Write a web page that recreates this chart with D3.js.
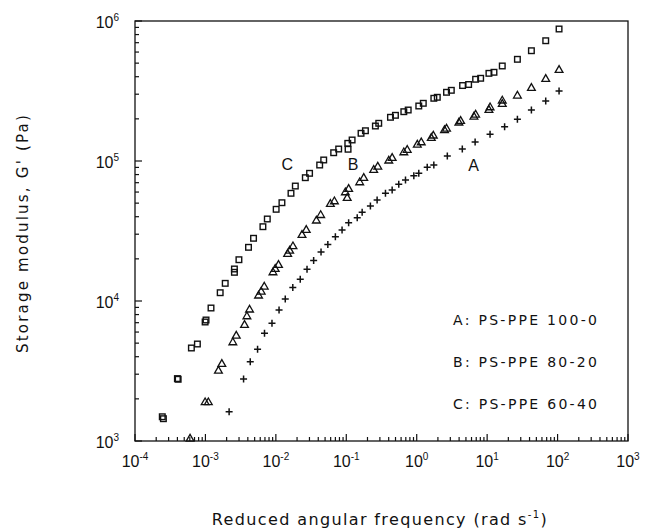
<!DOCTYPE html>
<html>
<head>
<meta charset="utf-8">
<script src="https://cdn.jsdelivr.net/npm/d3@7"></script>
<style>
  html, body { margin: 0; padding: 0; background: #fff; }
  svg { display: block; font-family: "Liberation Sans", Arial, Helvetica, sans-serif; }
</style>
</head>
<body>
<svg id="chart" width="645" height="532"></svg>
<script>
// Reduced frequency (rad/s) and storage modulus G' (Pa) for the three blends
const freqC = [2.44e-4, 2.53e-4, 4.0e-4, 4.1e-4, 6.32e-4, 7.69e-4, 9.9e-4, 1.02e-3, 1.20e-3, 1.62e-3, 1.91e-3,
  2.58e-3, 2.58e-3, 2.99e-3, 4.09e-3, 4.82e-3, 6.55e-3, 7.56e-3, 1.01e-2, 1.22e-2, 1.64e-2, 1.89e-2,
  2.62e-2, 3.01e-2, 4.19e-2, 4.78e-2, 6.62e-2, 7.80e-2, 0.106, 0.105, 0.121, 0.162, 0.187, 0.259, 0.289,
  0.424, 0.499, 0.656, 0.757, 1.07, 1.24, 1.75, 1.96, 2.65, 3.10, 4.48, 5.46, 6.86, 8.09, 10.6, 12.5,
  16.4, 26.9, 42.5, 67.9, 105];
const gC = [1490, 1443, 2790, 2760, 4617, 4930, 7080, 7316, 8913, 11460, 13370,
  16030, 16930, 19720, 24180, 28050, 33940, 38530, 45180, 50360, 58790, 66240,
  76000, 81660, 93600, 101700, 114600, 121800, 121300, 133700, 141300, 157700, 164500, 177800, 185900,
  205200, 212000, 225000, 231300, 247100, 258300, 280500, 285100, 309600, 319800, 346000, 351800, 383500, 389800, 422800, 430200,
  477300, 532500, 613400, 722900, 876800];

const freqB = [6.05e-4, 9.9e-4, 1.10e-3, 1.53e-3, 1.71e-3, 2.45e-3, 2.74e-3, 3.59e-3, 3.88e-3, 4.23e-3,
  5.68e-3, 6.19e-3, 6.84e-3, 9.10e-3, 9.79e-3, 1.09e-2, 1.47e-2, 1.57e-2, 1.75e-2, 2.35e-2, 2.70e-2,
  3.76e-2, 4.33e-2, 5.94e-2, 6.78e-2, 9.70e-2, 0.108, 0.103, 0.155, 0.177, 0.245, 0.280, 0.401, 0.448,
  0.656, 0.733, 1.02, 1.16, 1.61, 1.72, 2.48, 2.65, 3.97, 4.20, 6.49, 6.86, 10.6, 11.0, 16.4, 16.4,
  26.9, 42.5, 67.9, 105];
const gB = [1050, 1909, 1909, 3214, 3589, 5119, 5715, 6817, 7852, 8770,
  11040, 11790, 12800, 16190, 17120, 18280, 21920, 23130, 24840, 29940, 32510,
  37910, 41500, 49880, 52050, 60360, 63830, 55030, 71140, 76520, 87270, 92110, 101700, 106300,
  116500, 121300, 132200, 137300, 147600, 153400, 167900, 172100, 190000, 195400, 209600, 216600, 234000, 244300, 258300, 272900,
  296100, 336000, 389800, 451600];

const freqA = [2.17e-3, 3.48e-3, 4.33e-3, 5.50e-3, 6.90e-3, 8.81e-3, 1.11e-2, 1.36e-2, 1.74e-2, 2.22e-2,
  2.77e-2, 3.44e-2, 4.38e-2, 5.47e-2, 7.00e-2, 8.71e-2, 0.108, 0.143, 0.168, 0.220, 0.274, 0.360,
  0.448, 0.556, 0.693, 0.910, 1.07, 1.41, 1.75, 2.72, 4.44, 6.75, 11.0, 17.7, 26.9, 42.5, 67.9, 105];
const gA = [1619, 2772, 3684, 4519, 5878, 6929, 8623, 10330, 12480, 14310,
  16870, 19470, 22390, 25330, 28790, 32150, 36250, 39360, 43010, 47720, 52650, 58790,
  62080, 68180, 73100, 78530, 81660, 90160, 93600, 108600, 121800, 136700, 155200, 175800, 198600, 231300, 268300, 316200];

// Axis decades (exponents of ten)
const xExponents = [-4, -3, -2, -1, 0, 1, 2, 3];
const yExponents = [3, 4, 5, 6];

// Legend entries and curve letters (letters placed in data coordinates)
const legendLines = ["A: PS-PPE 100-0", "B: PS-PPE 80-20", "C: PS-PPE 60-40"];
const curveLetters = ["C", "B", "A"];
const curveLetterFreq = [0.0145, 0.125, 6.4];
const curveLetterG = [98000, 98000, 97000];

const svg = d3.select("#chart");
const L = 135, R = 628, T = 21, B = 441;
const wideFont = "'DejaVu Sans', Verdana, sans-serif";

const x = d3.scaleLog().domain([1e-4, 1e3]).range([L, R]);
const y = d3.scaleLog().domain([1e3, 1e6]).range([B, T]);

// Spread a text element's letters so it spans the given width
function fitWidth(sel, width) {
  const node = sel.node();
  const n = node.getNumberOfChars();
  const len = node.getComputedTextLength();
  if (n > 1) sel.attr("letter-spacing", ((width - len) / (n - 1)).toFixed(2));
}

// Minor tick values 2..9 in every decade
const minorX = [];
for (let e = -4; e < 3; e++) for (let m = 2; m <= 9; m++) minorX.push(m * Math.pow(10, e));
const minorY = [];
for (let e = 3; e < 6; e++) for (let m = 2; m <= 9; m++) minorY.push(m * Math.pow(10, e));
const majorX = xExponents.map(e => Math.pow(10, e));
const majorY = yExponents.map(e => Math.pow(10, e));

const ticks = svg.append("g").attr("stroke", "#111").attr("stroke-width", 1.2);
// Bottom ticks, pointing into the plot
ticks.selectAll("line.xmaj").data(majorX).join("line").attr("class", "xmaj")
  .attr("x1", d => x(d)).attr("x2", d => x(d)).attr("y1", B).attr("y2", B - 7);
ticks.selectAll("line.xmin").data(minorX).join("line").attr("class", "xmin")
  .attr("x1", d => x(d)).attr("x2", d => x(d)).attr("y1", B).attr("y2", B - 4);
// Left ticks
ticks.selectAll("line.ymaj").data(majorY).join("line").attr("class", "ymaj")
  .attr("y1", d => y(d)).attr("y2", d => y(d)).attr("x1", L).attr("x2", L + 7);
ticks.selectAll("line.ymin").data(minorY).join("line").attr("class", "ymin")
  .attr("y1", d => y(d)).attr("y2", d => y(d)).attr("x1", L).attr("x2", L + 4);

// Frame
svg.append("rect")
  .attr("x", L).attr("y", T).attr("width", R - L).attr("height", B - T)
  .attr("fill", "none").attr("stroke", "#111").attr("stroke-width", 1.3);

// Tick labels with superscript exponents
function powerLabel(sel, e) {
  sel.append("tspan").text("10");
  sel.append("tspan").attr("font-size", 10).attr("dy", -7).text(e < 0 ? "-" + (-e) : String(e));
}
xExponents.forEach(e => {
  const t = svg.append("text")
    .attr("x", x(Math.pow(10, e))).attr("y", 467)
    .attr("text-anchor", "middle").attr("font-size", 16).attr("fill", "#111");
  powerLabel(t, e);
});
yExponents.forEach(e => {
  const t = svg.append("text")
    .attr("x", 119).attr("y", y(Math.pow(10, e)) + 7)
    .attr("text-anchor", "end").attr("font-size", 16).attr("fill", "#111");
  powerLabel(t, e);
});

// Axis titles
const yt = svg.append("text")
  .attr("transform", "translate(28,233) rotate(-90)")
  .attr("text-anchor", "middle").attr("font-size", 15).attr("fill", "#111")
  .attr("font-family", wideFont)
  .text("Storage modulus, G' (Pa)");
fitWidth(yt, 238);

const xt = svg.append("text")
  .attr("x", 380).attr("y", 525)
  .attr("text-anchor", "middle").attr("font-size", 16).attr("fill", "#111")
  .attr("font-family", wideFont);
xt.append("tspan").text("Reduced angular frequency (rad s");
xt.append("tspan").attr("font-size", 10).attr("dy", -7).text("-1");
xt.append("tspan").attr("dy", 7).text(")");
fitWidth(xt, 335);

// Markers
const plot = svg.append("g");
const ptsC = freqC.map((f, i) => [f, gC[i]]);
const ptsB = freqB.map((f, i) => [f, gB[i]]);
const ptsA = freqA.map((f, i) => [f, gA[i]]);

plot.selectAll(".sq").data(ptsC).join("rect")
  .attr("x", d => x(d[0]) - 2.8).attr("y", d => y(d[1]) - 2.8)
  .attr("width", 5.6).attr("height", 5.6)
  .attr("fill", "none").attr("stroke", "#111").attr("stroke-width", 1.4);

const tri = d3.symbol().type(d3.symbolTriangle).size(26);
plot.selectAll(".tri").data(ptsB).join("path")
  .attr("d", tri)
  .attr("transform", d => `translate(${x(d[0])},${y(d[1]) + 0.8})`)
  .attr("fill", "none").attr("stroke", "#111").attr("stroke-width", 1.3);

plot.selectAll(".plus").data(ptsA).join("path")
  .attr("d", "M-3.5,0H3.5M0,-3.5V3.5")
  .attr("transform", d => `translate(${x(d[0])},${y(d[1])})`)
  .attr("fill", "none").attr("stroke", "#111").attr("stroke-width", 1.5);

// Curve letters
curveLetters.forEach((c, i) => {
  svg.append("text")
    .attr("x", x(curveLetterFreq[i])).attr("y", y(curveLetterG[i]) + 8)
    .attr("text-anchor", "middle").attr("font-size", 16).attr("fill", "#111")
    .text(c);
});

// Legend text
legendLines.forEach((s, i) => {
  const t = svg.append("text")
    .attr("x", 453).attr("y", 325 + i * 42)
    .attr("font-size", 14).attr("fill", "#111")
    .attr("font-family", wideFont)
    .text(s);
  fitWidth(t, 144);
});
</script>
</body>
</html>
